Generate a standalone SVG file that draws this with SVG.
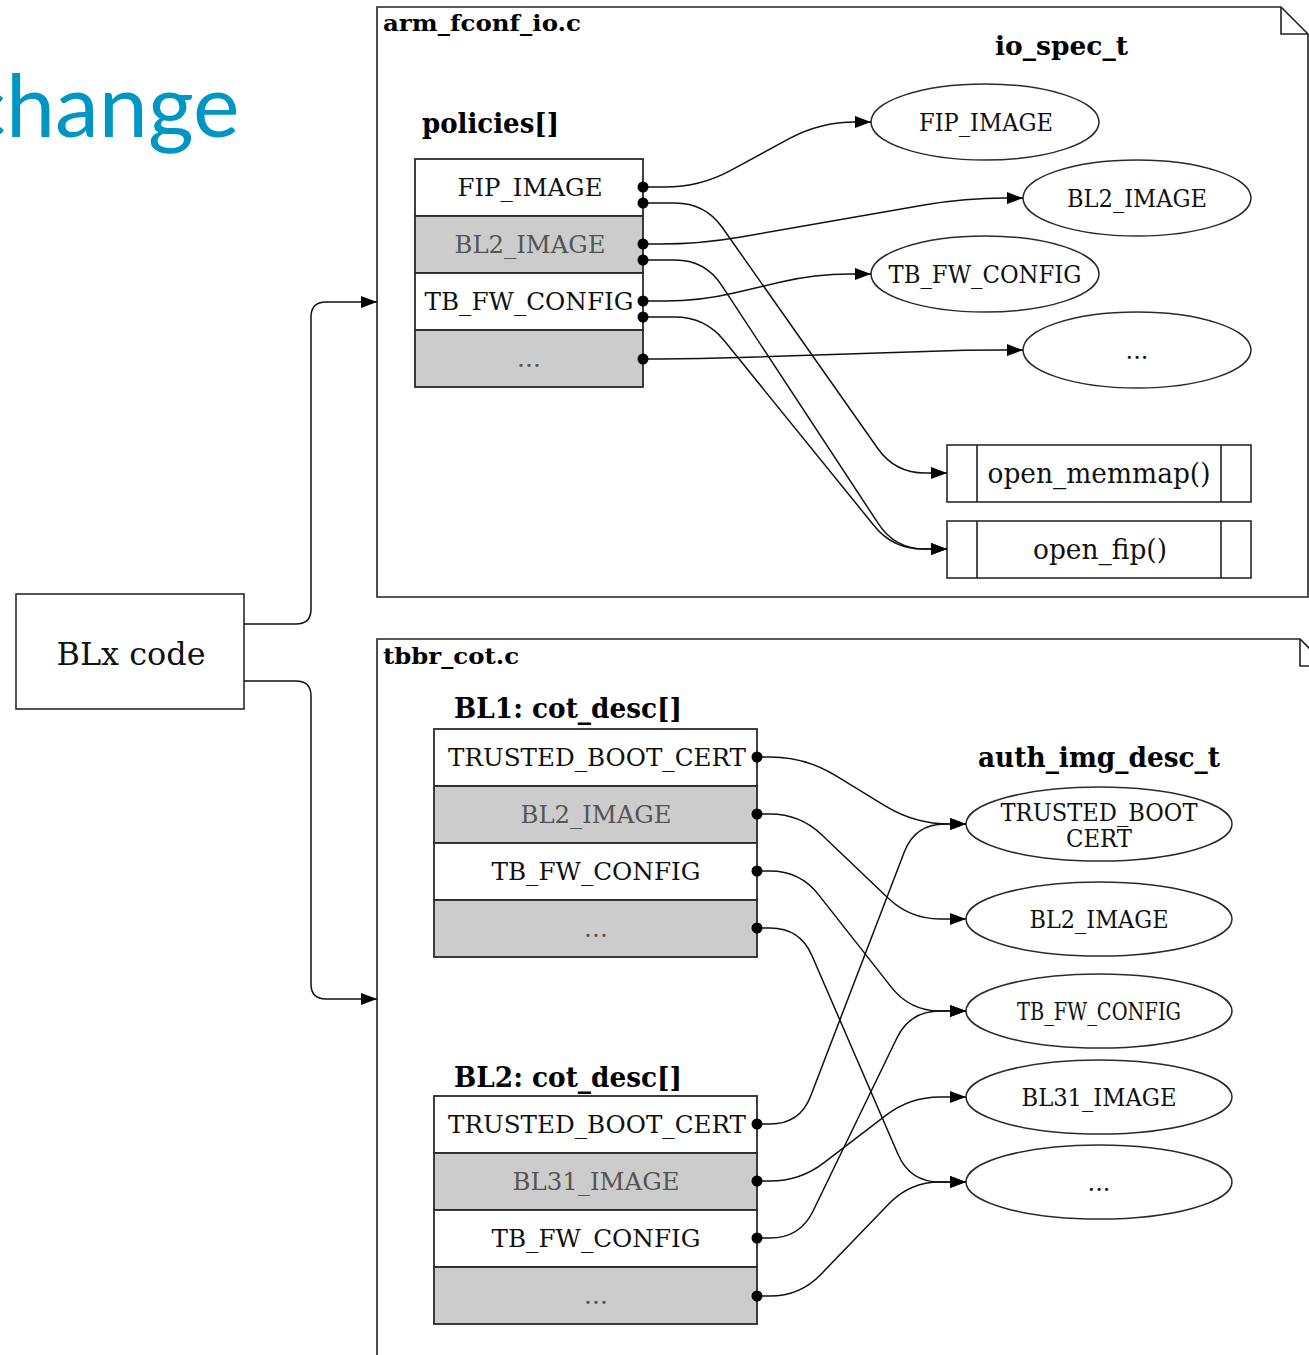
<svg xmlns="http://www.w3.org/2000/svg" width="1309" height="1355" viewBox="0 0 1309 1355">
  <defs>
    <marker id="arrow" markerUnits="userSpaceOnUse" markerWidth="16" markerHeight="12" refX="16" refY="6" orient="auto">
      <path d="M0,0 L16,6 L0,12 z" fill="#000"/>
    </marker>
    <marker id="port" markerUnits="userSpaceOnUse" markerWidth="13" markerHeight="13" refX="6.5" refY="6.5" orient="auto">
      <circle cx="6.5" cy="6.5" r="5.5" fill="#000"/>
    </marker>
  </defs>
  <style>
    .frame { fill: #fff; stroke: #222; stroke-width: 1.6; }
    .fold { fill: none; stroke: #222; stroke-width: 1.6; }
    .cell { fill: #fff; stroke: #2a2a2a; stroke-width: 1.8; }
    .cell.alt { fill: #cccccc; }
    .oval { fill: #fff; stroke: #2a2a2a; stroke-width: 1.5; }
    .box { fill: #fff; stroke: #2a2a2a; stroke-width: 1.6; }
    .lbl { font-family: "DejaVu Serif", "Liberation Serif", serif; fill: #111; text-anchor: middle; }
    .lbl.dim { fill: #555; }
    .hdr { font-family: "DejaVu Serif", "Liberation Serif", serif; font-weight: bold; fill: #000; }
    .edge { fill: none; stroke: #111; stroke-width: 1.5; marker-end: url(#arrow); }
    .edge.src { marker-start: url(#port); }
    .title { font-family: Lato, "Open Sans", sans-serif; fill: #0096c4; }
  </style>

  <rect width="1309" height="1355" fill="#fff"/>

  <!-- slide heading, partly off the left edge -->
  <g id="title">
    <text class="title" x="-36" y="137" font-size="88">change</text>
  </g>

  <!-- file frames -->
  <g id="frame-arm-fconf-io">
    <path class="frame" d="M377,7 H1281 L1308,34 V597 H377 Z"/>
    <path class="fold" d="M1281,7 V34 H1308"/>
    <text class="hdr" x="383" y="31" font-size="22" textLength="198" lengthAdjust="spacingAndGlyphs">arm_fconf_io.c</text>
    <text class="hdr" x="995" y="55" font-size="26" textLength="133" lengthAdjust="spacingAndGlyphs">io_spec_t</text>
    <text class="hdr" x="422" y="133" font-size="27" textLength="137" lengthAdjust="spacingAndGlyphs">policies[]</text>
  </g>

  <g id="frame-tbbr-cot">
    <path class="frame" d="M377,1360 V639 H1300 L1330,669 V1360"/>
    <path class="fold" d="M1300,639 V666 H1330"/>
    <text class="hdr" x="383" y="664" font-size="22" textLength="136" lengthAdjust="spacingAndGlyphs">tbbr_cot.c</text>
    <text class="hdr" x="454" y="718" font-size="27" textLength="228" lengthAdjust="spacingAndGlyphs">BL1: cot_desc[]</text>
    <text class="hdr" x="454" y="1087" font-size="27" textLength="228" lengthAdjust="spacingAndGlyphs">BL2: cot_desc[]</text>
    <text class="hdr" x="978" y="767" font-size="27" textLength="242" lengthAdjust="spacingAndGlyphs">auth_img_desc_t</text>
  </g>

  <!-- caller -->
  <g id="blx-code">
    <rect class="box" x="16" y="594" width="228" height="115"/>
    <text class="lbl" x="131" y="665" font-size="31" textLength="149" lengthAdjust="spacingAndGlyphs">BLx code</text>
  </g>

  <!-- policies[] table -->
  <g id="policies">
    <rect class="cell" x="415" y="159" width="228" height="57"/>
    <rect class="cell alt" x="415" y="216" width="228" height="57"/>
    <rect class="cell" x="415" y="273" width="228" height="57"/>
    <rect class="cell alt" x="415" y="330" width="228" height="57"/>
    <text class="lbl" x="530" y="196" font-size="25" textLength="145" lengthAdjust="spacingAndGlyphs">FIP_IMAGE</text>
    <text class="lbl dim" x="530" y="253" font-size="25" textLength="151" lengthAdjust="spacingAndGlyphs">BL2_IMAGE</text>
    <text class="lbl" x="529" y="310" font-size="25" textLength="209" lengthAdjust="spacingAndGlyphs">TB_FW_CONFIG</text>
    <text class="lbl dim" x="529" y="367" font-size="25">...</text>
  </g>

  <!-- io_spec_t entries -->
  <g id="io-fip-image">
    <ellipse class="oval" cx="985" cy="122" rx="114" ry="38"/>
    <text class="lbl" x="986" y="131" font-size="24" textLength="134" lengthAdjust="spacingAndGlyphs">FIP_IMAGE</text>
  </g>
  <g id="io-bl2-image">
    <ellipse class="oval" cx="1137" cy="198" rx="114" ry="38"/>
    <text class="lbl" x="1137" y="207" font-size="24" textLength="140" lengthAdjust="spacingAndGlyphs">BL2_IMAGE</text>
  </g>
  <g id="io-tb-fw-config">
    <ellipse class="oval" cx="985" cy="274" rx="114" ry="38"/>
    <text class="lbl" x="985" y="283" font-size="24" textLength="193" lengthAdjust="spacingAndGlyphs">TB_FW_CONFIG</text>
  </g>
  <g id="io-more">
    <ellipse class="oval" cx="1137" cy="350" rx="114" ry="38"/>
    <text class="lbl" x="1137" y="359" font-size="24">...</text>
  </g>

  <!-- io driver open functions -->
  <g id="open-memmap">
    <rect class="box" x="947" y="445" width="304" height="57"/>
    <path class="fold" d="M977,445 V502 M1221,445 V502"/>
    <text class="lbl" x="1099" y="483" font-size="28" textLength="223" lengthAdjust="spacingAndGlyphs">open_memmap()</text>
  </g>
  <g id="open-fip">
    <rect class="box" x="947" y="521" width="304" height="57"/>
    <path class="fold" d="M977,521 V578 M1221,521 V578"/>
    <text class="lbl" x="1100" y="559" font-size="28" textLength="134" lengthAdjust="spacingAndGlyphs">open_fip()</text>
  </g>

  <!-- BL1 chain of trust table -->
  <g id="bl1-cot-desc">
    <rect class="cell" x="434" y="729" width="323" height="57"/>
    <rect class="cell alt" x="434" y="786" width="323" height="57"/>
    <rect class="cell" x="434" y="843" width="323" height="57"/>
    <rect class="cell alt" x="434" y="900" width="323" height="57"/>
    <text class="lbl" x="597" y="766" font-size="25" textLength="298" lengthAdjust="spacingAndGlyphs">TRUSTED_BOOT_CERT</text>
    <text class="lbl dim" x="596" y="823" font-size="25" textLength="151" lengthAdjust="spacingAndGlyphs">BL2_IMAGE</text>
    <text class="lbl" x="596" y="880" font-size="25" textLength="209" lengthAdjust="spacingAndGlyphs">TB_FW_CONFIG</text>
    <text class="lbl dim" x="596" y="937" font-size="25">...</text>
  </g>

  <!-- BL2 chain of trust table -->
  <g id="bl2-cot-desc">
    <rect class="cell" x="434" y="1096" width="323" height="57"/>
    <rect class="cell alt" x="434" y="1153" width="323" height="57"/>
    <rect class="cell" x="434" y="1210" width="323" height="57"/>
    <rect class="cell alt" x="434" y="1267" width="323" height="57"/>
    <text class="lbl" x="597" y="1133" font-size="25" textLength="298" lengthAdjust="spacingAndGlyphs">TRUSTED_BOOT_CERT</text>
    <text class="lbl dim" x="596" y="1190" font-size="25" textLength="167" lengthAdjust="spacingAndGlyphs">BL31_IMAGE</text>
    <text class="lbl" x="596" y="1247" font-size="25" textLength="209" lengthAdjust="spacingAndGlyphs">TB_FW_CONFIG</text>
    <text class="lbl dim" x="596" y="1304" font-size="25">...</text>
  </g>

  <!-- auth_img_desc_t entries -->
  <g id="auth-trusted-boot-cert">
    <ellipse class="oval" cx="1099" cy="824" rx="133" ry="37"/>
    <text class="lbl" x="1099" y="821" font-size="24" textLength="197" lengthAdjust="spacingAndGlyphs">TRUSTED_BOOT</text>
    <text class="lbl" x="1099" y="847" font-size="24" textLength="66" lengthAdjust="spacingAndGlyphs">CERT</text>
  </g>
  <g id="auth-bl2-image">
    <ellipse class="oval" cx="1099" cy="919" rx="133" ry="37"/>
    <text class="lbl" x="1099" y="928" font-size="24" textLength="139" lengthAdjust="spacingAndGlyphs">BL2_IMAGE</text>
  </g>
  <g id="auth-tb-fw-config">
    <ellipse class="oval" cx="1099" cy="1011" rx="133" ry="37"/>
    <text class="lbl" x="1099" y="1020" font-size="24" textLength="164" lengthAdjust="spacingAndGlyphs">TB_FW_CONFIG</text>
  </g>
  <g id="auth-bl31-image">
    <ellipse class="oval" cx="1099" cy="1097" rx="133" ry="37"/>
    <text class="lbl" x="1099" y="1106" font-size="24" textLength="155" lengthAdjust="spacingAndGlyphs">BL31_IMAGE</text>
  </g>
  <g id="auth-more">
    <ellipse class="oval" cx="1099" cy="1182" rx="133" ry="37"/>
    <text class="lbl" x="1099" y="1191" font-size="24">...</text>
  </g>

  <!-- connectors -->
  <g id="connectors">
    <!-- BLx code into both files -->
    <path class="edge" d="M244,624 H296 Q311,624 311,609 V317 Q311,302 326,302 H377"/>
    <path class="edge" d="M244,681 H296 Q311,681 311,696 V984 Q311,999 326,999 H377"/>

    <!-- policies[] to io specs and open functions -->
    <path class="edge src" d="M643,187 L665,187 Q700,187 730.8,170.3 L789.2,138.7 Q820,122 855,122 L871,122"/>
    <path class="edge src" d="M643,203 L675,203 Q705,203 722.3,227.5 L877.8,448.5 Q895,473 925,473 L947,473"/>
    <path class="edge src" d="M643,244 L660,244 Q700,244 739.4,237.2 L925.6,204.8 Q965,198 1005,198 L1023,198"/>
    <path class="edge src" d="M643,260 L675,260 Q705,260 721.5,285.1 L878.5,523.9 Q895,549 925,549 L947,549"/>
    <path class="edge src" d="M643,301 L665,301 Q700,301 734.1,293 L780.9,282 Q815,274 850,274 L871,274"/>
    <path class="edge src" d="M643,317 L675,317 Q705,317 723.9,340.3 L874.1,525.7 Q893,549 923,549 L947,549"/>
    <path class="edge src" d="M643,359 L660,359 Q700,359 740,357.6 L925,351.4 Q965,350 1005,350 L1023,350"/>

    <!-- BL1 cot_desc[] to auth descriptors -->
    <path class="edge src" d="M757,757 L770,757 Q805,757 834.9,775.2 L885.1,805.8 Q915,824 950,824 L966,824"/>
    <path class="edge src" d="M757,814 L770,814 Q800,814 821.7,834.7 L888.3,898.3 Q910,919 940,919 L966,919"/>
    <path class="edge src" d="M757,871 L770,871 Q800,871 818.5,894.6 L891.5,987.4 Q910,1011 940,1011 L966,1011"/>
    <path class="edge src" d="M757,928 L770,928 Q800,928 811.9,955.5 L898.1,1154.5 Q910,1182 940,1182 L966,1182"/>

    <!-- BL2 cot_desc[] to auth descriptors -->
    <path class="edge src" d="M757,1124 L770,1124 Q800,1124 810.7,1096 L904.3,852 Q915,824 945,824 L966,824"/>
    <path class="edge src" d="M757,1181 L770,1181 Q800,1181 823.8,1162.8 L886.2,1115.2 Q910,1097 940,1097 L966,1097"/>
    <path class="edge src" d="M757,1238 L770,1238 Q800,1238 813.1,1211 L896.9,1038 Q910,1011 940,1011 L966,1011"/>
    <path class="edge src" d="M757,1296 L770,1296 Q800,1296 820.8,1274.4 L889.2,1203.6 Q910,1182 940,1182 L966,1182"/>
  </g>
</svg>
